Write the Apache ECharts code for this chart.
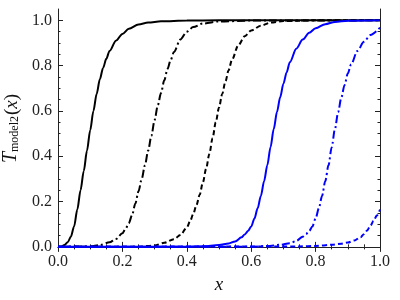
<!DOCTYPE html>
<html>
<head>
<meta charset="utf-8">
<script src="https://cdn.jsdelivr.net/npm/echarts@6/dist/echarts.min.js"></script>
<style>html,body{margin:0;padding:0;background:#fff}#c{width:400px;height:300px}</style>
</head>
<body>
<div id="c"></div>
<script>
// ---- data ----
const xTickLabels = [0.0, 0.2, 0.4, 0.6, 0.8, 1.0];
const yTickLabels = [0.0, 0.2, 0.4, 0.6, 0.8, 1.0];
const yMinorTicks = [0.05,0.1,0.15,0.25,0.3,0.35,0.45,0.5,0.55,0.65,0.7,0.75,0.85,0.9,0.95];

const blackSolidX = [0,0.01,0.02,0.03,0.04,0.05,0.06,0.07,0.08,0.09,0.1,0.11,0.12,0.13,0.14,0.15,0.16,0.18,0.2,0.22,0.25,0.28,0.32,0.4,0.5,1.0];
const blackSolidY = [0,0.001,0.008,0.02,0.045,0.09,0.165,0.25,0.335,0.425,0.515,0.6,0.675,0.74,0.79,0.83,0.865,0.91,0.94,0.963,0.982,0.99,0.996,0.999,1,1];

const blackDashDotX = [0,0.1,0.13,0.16,0.18,0.2,0.21,0.22,0.23,0.24,0.25,0.26,0.27,0.28,0.29,0.3,0.31,0.32,0.33,0.34,0.35,0.36,0.38,0.4,0.42,0.45,0.5,0.6,1.0];
const blackDashDotY = [0,0.002,0.008,0.02,0.035,0.06,0.08,0.105,0.14,0.19,0.245,0.3,0.36,0.425,0.49,0.56,0.625,0.68,0.735,0.785,0.825,0.86,0.915,0.95,0.97,0.986,0.995,0.999,1];

const blackDashedX = [0,0.25,0.3,0.33,0.36,0.38,0.4,0.41,0.42,0.43,0.44,0.45,0.46,0.47,0.48,0.49,0.5,0.51,0.52,0.53,0.54,0.56,0.58,0.6,0.63,0.66,0.7,0.8,1.0];
const blackDashedY = [0,0.001,0.006,0.018,0.034,0.052,0.085,0.112,0.145,0.185,0.23,0.285,0.345,0.41,0.48,0.55,0.615,0.675,0.73,0.78,0.825,0.89,0.93,0.955,0.976,0.99,0.997,1,1];

const blueSolidX = [0,0.4,0.45,0.5,0.53,0.55,0.57,0.58,0.59,0.6,0.61,0.62,0.63,0.64,0.65,0.66,0.67,0.68,0.69,0.7,0.71,0.72,0.74,0.76,0.78,0.8,0.83,0.86,0.9,1.0];
const blueSolidY = [0,0.001,0.003,0.008,0.015,0.024,0.042,0.055,0.07,0.09,0.125,0.17,0.225,0.29,0.36,0.44,0.52,0.595,0.66,0.72,0.77,0.815,0.875,0.915,0.945,0.965,0.983,0.993,0.998,1];

const blueDashDotX = [0,0.6,0.65,0.69,0.72,0.74,0.76,0.77,0.78,0.79,0.8,0.81,0.82,0.83,0.84,0.85,0.86,0.87,0.88,0.89,0.9,0.91,0.93,0.95,0.97,1.0];
const blueDashDotY = [0,0.001,0.004,0.009,0.016,0.026,0.045,0.056,0.07,0.09,0.125,0.17,0.225,0.29,0.36,0.44,0.52,0.595,0.66,0.715,0.765,0.805,0.865,0.905,0.935,0.968];

const blueDashedX = [0,0.75,0.8,0.85,0.88,0.9,0.92,0.94,0.95,0.96,0.97,0.98,0.99,1.0];
const blueDashedY = [0,0.002,0.004,0.009,0.014,0.019,0.028,0.043,0.056,0.072,0.093,0.115,0.138,0.165];

// ---- chart ----
const pairs = (xs, ys) => xs.map((x, i) => [x, ys[i]]);
const FONT = '"Liberation Serif", "DejaVu Serif", serif';
const AX = '#222';

function lineSeries(name, xs, ys, color, type) {
  return {
    name, type: 'line', data: pairs(xs, ys), showSymbol: false, symbol: 'none',
    smooth: 0.3, smoothMonotone: 'x', clip: true,
    lineStyle: { color, width: 2, type },
    emphasis: { disabled: true }, z: 3
  };
}

const chart = echarts.init(document.getElementById('c'), null, { renderer: 'canvas' });
const yRange = { min: -0.005, max: 1.05 };
const hidden = { show: false };

chart.setOption({
  animation: false,
  backgroundColor: '#fff',
  textStyle: { fontFamily: FONT },
  grid: { left: 58, right: 20, top: 9, bottom: 52, containLabel: false, outerBoundsMode: 'none' },
  xAxis: [
    {
      type: 'value', position: 'bottom', min: 0, max: 1, interval: 0.2,
      axisLine: { show: true, lineStyle: { color: AX, width: 1 } },
      axisTick: { show: true, inside: true, length: 5, lineStyle: { color: AX } },
      minorTick: { show: true, splitNumber: 4, length: 2.5, lineStyle: { color: AX } },
      splitLine: hidden, minorSplitLine: hidden,
      axisLabel: { show: true, margin: 6, color: AX, fontFamily: FONT, fontSize: 16,
        customValues: xTickLabels, formatter: v => v.toFixed(1) },
      name: 'x', nameLocation: 'middle', nameGap: 27,
      nameTextStyle: { fontFamily: FONT, fontStyle: 'italic', fontSize: 19, color: '#111' }
    },
    {
      type: 'value', position: 'top', min: 0, max: 1, interval: 0.2,
      axisLine: { show: true, lineStyle: { color: AX, width: 1 } },
      axisTick: { show: true, inside: true, length: 5, lineStyle: { color: AX } },
      minorTick: { show: true, splitNumber: 4, length: 2.5, lineStyle: { color: AX } },
      splitLine: hidden, axisLabel: hidden
    }
  ],
  yAxis: [
    {
      type: 'value', position: 'left', ...yRange,
      axisLine: { show: true, lineStyle: { color: AX, width: 1 } },
      axisTick: { show: true, inside: true, length: 5, customValues: yTickLabels, lineStyle: { color: AX } },
      splitLine: hidden,
      axisLabel: { show: true, margin: 6, color: AX, fontFamily: FONT, fontSize: 16,
        customValues: yTickLabels, formatter: v => v.toFixed(1) },
      name: '{t|T}{s|model2}{p|(}{i|x}{p|)}', nameLocation: 'middle', nameGap: 33, nameRotate: 90,
      nameTextStyle: {
        color: '#111',
        rich: {
          t: { fontFamily: FONT, fontStyle: 'italic', fontSize: 20, lineHeight: 22, verticalAlign: 'bottom' },
          s: { fontFamily: FONT, fontSize: 12, lineHeight: 12, verticalAlign: 'bottom', padding: [0, 1, 0, 0] },
          p: { fontFamily: FONT, fontSize: 19, lineHeight: 22, verticalAlign: 'bottom' },
          i: { fontFamily: FONT, fontStyle: 'italic', fontSize: 19, lineHeight: 22, verticalAlign: 'bottom' }
        }
      }
    },
    {
      type: 'value', position: 'left', ...yRange,
      axisLine: hidden, splitLine: hidden, axisLabel: hidden,
      axisTick: { show: true, inside: true, length: 2.5, customValues: yMinorTicks, lineStyle: { color: AX } }
    },
    {
      type: 'value', position: 'right', ...yRange,
      axisLine: { show: true, lineStyle: { color: AX, width: 1 } },
      splitLine: hidden, axisLabel: hidden,
      axisTick: { show: true, inside: true, length: 5, customValues: yTickLabels, lineStyle: { color: AX } }
    },
    {
      type: 'value', position: 'right', ...yRange,
      axisLine: hidden, splitLine: hidden, axisLabel: hidden,
      axisTick: { show: true, inside: true, length: 2.5, customValues: yMinorTicks, lineStyle: { color: AX } }
    }
  ],
  series: [
    lineSeries('black solid', blackSolidX, blackSolidY, '#000000', 'solid'),
    lineSeries('black dash-dot', blackDashDotX, blackDashDotY, '#000000', [8, 3, 2, 3]),
    lineSeries('black dashed', blackDashedX, blackDashedY, '#000000', [5, 3]),
    lineSeries('blue solid', blueSolidX, blueSolidY, '#0000ff', 'solid'),
    lineSeries('blue dash-dot', blueDashDotX, blueDashDotY, '#0000ff', [8, 3, 2, 3]),
    lineSeries('blue dashed', blueDashedX, blueDashedY, '#0000ff', [5, 3])
  ]
});
</script>
</body>
</html>
